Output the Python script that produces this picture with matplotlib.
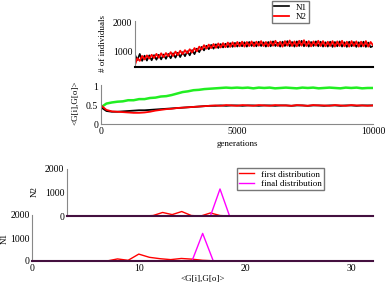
import matplotlib
matplotlib.use("Agg")
import matplotlib.pyplot as plt
import numpy as np

plt.rcParams['font.family'] = ['Liberation Serif', 'DejaVu Serif']
plt.rcParams['font.size'] = 7

# population sizes, sampled every 100 generations
gen_pop = np.arange(0, 10001, 100)
n1_pop = [900, 720, 930, 690, 870, 700, 880, 710, 890, 730,
          900, 740, 910, 760, 930, 780, 950, 800, 970, 820,
          990, 850, 1020, 880, 1060, 920, 1110, 990, 1170, 1050,
          1210, 1090, 1240, 1110, 1260, 1130, 1270, 1150, 1280, 1160,
          1300, 1170, 1310, 1180, 1320, 1190, 1330, 1180, 1340, 1200,
          1330, 1190, 1350, 1200, 1330, 1180, 1340, 1190, 1360, 1200,
          1320, 1180, 1350, 1200, 1370, 1190, 1340, 1180, 1360, 1200,
          1380, 1190, 1350, 1180, 1340, 1200, 1360, 1190, 1350, 1180,
          1330, 1180, 1350, 1170, 1340, 1190, 1360, 1180, 1330, 1170,
          1350, 1190, 1340, 1170, 1330, 1180, 1350, 1170, 1320, 1160,
          1200]
n2_pop = [560, 780, 690, 860, 740, 880, 770, 900, 790, 930,
          800, 950, 820, 960, 850, 990, 860, 1010, 890, 1040,
          920, 1060, 950, 1090, 980, 1130, 1020, 1180, 1080, 1230,
          1110, 1250, 1130, 1270, 1140, 1290, 1150, 1300, 1160, 1320,
          1170, 1330, 1180, 1340, 1190, 1350, 1180, 1340, 1200, 1360,
          1190, 1350, 1210, 1370, 1200, 1340, 1190, 1360, 1210, 1380,
          1200, 1350, 1180, 1370, 1210, 1390, 1200, 1360, 1190, 1380,
          1210, 1400, 1200, 1370, 1190, 1360, 1210, 1380, 1200, 1370,
          1190, 1350, 1200, 1370, 1180, 1360, 1200, 1380, 1190, 1350,
          1180, 1370, 1200, 1360, 1180, 1350, 1190, 1370, 1180, 1340,
          1230]

# overlap <G[i],G[o]>, every 200 generations
gen_ov = np.arange(0, 10001, 200)
green_ov = [0.45, 0.55, 0.58, 0.60, 0.61, 0.64, 0.64, 0.67, 0.67, 0.70,
            0.71, 0.74, 0.75, 0.78, 0.82, 0.86, 0.88, 0.91, 0.92, 0.94,
            0.95, 0.96, 0.97, 0.98, 0.97, 0.98, 0.97, 0.98, 0.96, 0.98,
            0.97, 0.98, 0.96, 0.97, 0.98, 0.97, 0.96, 0.98, 0.97, 0.98,
            0.96, 0.97, 0.98, 0.97, 0.96, 0.98, 0.97, 0.98, 0.96, 0.97,
            0.97]
black_ov = [0.45, 0.35, 0.33, 0.33, 0.34, 0.35, 0.36, 0.37, 0.37, 0.38,
            0.39, 0.40, 0.41, 0.42, 0.43, 0.44, 0.45, 0.46, 0.47, 0.48,
            0.49, 0.49, 0.50, 0.49, 0.50, 0.50, 0.49, 0.50, 0.50, 0.49,
            0.50, 0.50, 0.49, 0.50, 0.50, 0.49, 0.50, 0.50, 0.49, 0.50,
            0.50, 0.49, 0.50, 0.50, 0.49, 0.50, 0.50, 0.49, 0.50, 0.50,
            0.50]
red_ov = [0.50, 0.38, 0.34, 0.33, 0.32, 0.31, 0.30, 0.30, 0.31, 0.33,
          0.36, 0.38, 0.40, 0.41, 0.43, 0.44, 0.45, 0.46, 0.47, 0.48,
          0.49, 0.50, 0.49, 0.51, 0.50, 0.49, 0.51, 0.50, 0.49, 0.51,
          0.50, 0.49, 0.51, 0.50, 0.50, 0.49, 0.51, 0.50, 0.49, 0.51,
          0.50, 0.50, 0.49, 0.51, 0.50, 0.49, 0.51, 0.50, 0.50, 0.49,
          0.50]

# distributions
x_first_n1 = [7, 8, 9, 10, 11, 12, 13, 14, 15, 16, 17, 18, 19]
first_n1 = [0, 90, 30, 300, 160, 100, 60, 110, 80, 30, 10, 10, 0]
x_first_n2 = [8, 9, 10, 11, 12, 13, 14, 15, 16, 17, 18, 19, 20]
first_n2 = [0, 20, 150, 60, 190, 20, 0, 130, 20, 0, 0, 0, 0]
x_final = [14, 15, 16, 17, 18]
final_n1 = [0, 0, 1200, 0, 0]
final_n2 = [0, 0, 1150, 0, 0]

W, H = 386, 282
fig = plt.figure(figsize=(W / 100, H / 100), dpi=100)


def box(l, t, r, b):
    return [l / W, 1 - b / H, (r - l) / W, (b - t) / H]


def style(ax, bottom_color):
    ax.patch.set_visible(False)
    for s in ['top', 'right']:
        ax.spines[s].set_visible(False)
    ax.spines['left'].set_color('#888888')
    ax.spines['left'].set_linewidth(0.8)
    ax.spines['bottom'].set_color(bottom_color)
    ax.tick_params(length=0, pad=2, labelsize=7)


leg_kw = dict(fontsize=6.5, frameon=True, fancybox=False,
              edgecolor='#777777', framealpha=1, handlelength=1.6,
              handletextpad=0.8, borderpad=0.25, labelspacing=0.1,
              borderaxespad=0)

ax1 = fig.add_axes(box(135, 21, 373, 67))
style(ax1, 'black')
ax1.spines['bottom'].set_linewidth(1.5)
ax1.plot(gen_pop, n1_pop, color='black', lw=1.2, label='N1')
ax1.plot(gen_pop, n2_pop, color='red', lw=1.3, label='N2')
ax1.set_xlim(0, 10000)
ax1.set_ylim(480, 2060)
ax1.set_xticks([])
ax1.set_yticks([1000, 2000])
ax1.set_ylabel('# of individuals', fontsize=6.5)
ax1.yaxis.set_label_coords(-0.118, 0.5)
ax1.legend(loc='upper left', bbox_to_anchor=(272 / W, 1 - 1 / H),
           bbox_transform=fig.transFigure, **leg_kw)

ax2 = fig.add_axes(box(101, 85, 373, 124))
style(ax2, '#888888')
ax2.plot(gen_ov, green_ov, color='#22ee22', lw=1.8)
ax2.plot(gen_ov, black_ov, color='black', lw=1.3)
ax2.plot(gen_ov, red_ov, color='red', lw=1.3)
ax2.set_xlim(0, 10000)
ax2.set_ylim(0, 1.05)
ax2.set_xticks([0, 5000, 10000])
ax2.set_yticks([0, 0.5, 1])
ax2.set_yticklabels(['0', '0.5', '1'])
ax2.set_ylabel('<G[i],G[o]>', fontsize=6.5)
ax2.yaxis.set_label_coords(-0.081, 0.54)
ax2.set_xlabel('generations', fontsize=6.5)
ax2.xaxis.set_label_coords(0.5, -0.41)

ax3 = fig.add_axes(box(67, 169, 373, 216))
style(ax3, '#44103f')
ax3.spines['bottom'].set_linewidth(1.5)
ax3.plot(x_first_n2, first_n2, color='red', lw=1, label='first distribution')
ax3.plot(x_final, final_n2, color='magenta', lw=1, label='final distribution')
ax3.set_xlim(0, 32)
ax3.set_ylim(0, 2000)
ax3.set_xticks([])
ax3.set_yticks([0, 1000, 2000])
ax3.set_ylabel('N2', fontsize=6.5)
ax3.yaxis.set_label_coords(-0.093, 0.51)
ax3.legend(loc='upper left', bbox_to_anchor=(237 / W, 1 - 168 / H),
           bbox_transform=fig.transFigure, **leg_kw)

ax4 = fig.add_axes(box(32.3, 215, 373, 261))
style(ax4, '#44103f')
ax4.spines['bottom'].set_linewidth(1.5)
ax4.plot(x_first_n1, first_n1, color='red', lw=1)
ax4.plot(x_final, final_n1, color='magenta', lw=1)
ax4.set_xlim(0, 32)
ax4.set_ylim(0, 2000)
ax4.set_xticks([0, 10, 20, 30])
ax4.set_yticks([0, 1000, 2000])
ax4.set_ylabel('N1', fontsize=6.5)
ax4.yaxis.set_label_coords(-0.07, 0.5)
ax4.set_xlabel('<G[i],G[o]>', fontsize=6.5)
ax4.xaxis.set_label_coords(0.5, -0.3)

fig.savefig('out.png', dpi=100)
